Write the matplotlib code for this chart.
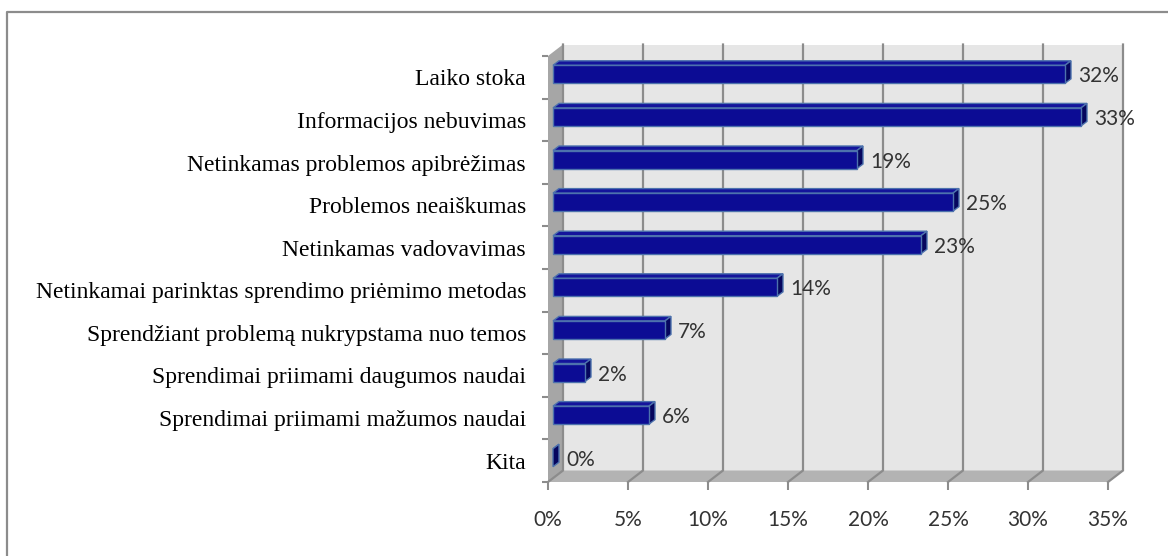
import matplotlib
matplotlib.use('Agg')
import matplotlib.pyplot as plt
from matplotlib.patches import Polygon
from matplotlib.lines import Line2D

categories = ['Laiko stoka', 'Informacijos nebuvimas', 'Netinkamas problemos apibrėžimas',
              'Problemos neaiškumas', 'Netinkamas vadovavimas',
              'Netinkamai parinktas sprendimo priėmimo metodas',
              'Sprendžiant problemą nukrypstama nuo temos',
              'Sprendimai priimami daugumos naudai', 'Sprendimai priimami mažumos naudai',
              'Kita']
values = [32, 33, 19, 25, 23, 14, 7, 2, 6, 0]
xticks = [0, 5, 10, 15, 20, 25, 30, 35]
xticklabels = ['0%', '5%', '10%', '15%', '20%', '25%', '30%', '35%']

W, H = 1168, 556
fig = plt.figure(figsize=(W / 100, H / 100), dpi=100)
fig.patch.set_facecolor('white')

# front plane of the plot area in pixels
left, right, top, bottom = 548, 1108, 56, 482
ax = fig.add_axes([left / W, 1 - bottom / H, (right - left) / W, (bottom - top) / H])
ax.set_xlim(0, 35)
ax.set_ylim(len(categories), 0)
ax.set_frame_on(False)
ax.patch.set_visible(False)

# pixel -> data unit helpers
px_x = 35 / (right - left)
px_y = len(categories) / (bottom - top)

n = len(categories)
dxw, dyw = 15 * px_x, 11.5 * px_y  # wall depth

gray_line = '#8c8c8c'

# back wall
ax.add_patch(Polygon([(dxw, -dyw), (35 + dxw, -dyw), (35 + dxw, n - dyw), (dxw, n - dyw)],
                     closed=True, facecolor='#e6e6e6', edgecolor='none', zorder=0, clip_on=False))
# floor
ax.add_patch(Polygon([(0, n), (35, n), (35 + dxw, n - dyw), (dxw, n - dyw)],
                     closed=True, facecolor='#b3b3b3', edgecolor='none', zorder=1, clip_on=False))
# side wall
ax.add_patch(Polygon([(0, 0), (dxw, -dyw), (dxw, n - dyw), (0, n)],
                     closed=True, facecolor='#a6a6a6', edgecolor='none', zorder=1, clip_on=False))

# gridlines on wall and floor
for v in xticks:
    ax.plot([v + dxw, v + dxw, v], [-dyw, n - dyw, n], color=gray_line, lw=1.6,
            zorder=2, clip_on=False, solid_joinstyle='miter')

# bars
x0 = 5 * px_x
ddx, ddy = 6 * px_x, 4.5 * px_y
front_c = '#0c0c94'
top_c = '#14149c'
side_c = '#06065e'
edge_c = '#4d72ad'
for i, v in enumerate(values):
    yc = i + 0.5
    t = yc - 12 * px_y
    b = yc + 6 * px_y
    x1 = x0 + v
    ax.add_patch(Polygon([(x0, t), (x1, t), (x1 + ddx, t - ddy), (x0 + ddx, t - ddy)],
                         closed=True, facecolor=top_c, edgecolor=edge_c, lw=1, zorder=3, clip_on=False))
    ax.add_patch(Polygon([(x1, t), (x1 + ddx, t - ddy), (x1 + ddx, b - ddy), (x1, b)],
                         closed=True, facecolor=side_c, edgecolor=edge_c, lw=1, zorder=3, clip_on=False))
    if v > 0:
        ax.add_patch(Polygon([(x0, t), (x1, t), (x1, b), (x0, b)],
                             closed=True, facecolor=front_c, edgecolor=edge_c, lw=1, zorder=4,
                             clip_on=False))
    ax.annotate(f'{v}%', xy=(x1, (t + b) / 2), xytext=(9.5, -1.5), textcoords='offset points',
                ha='left', va='center', fontsize=15, family='Lato', color='#333333',
                zorder=5, annotation_clip=False)

# axes ticks
ax.set_xticks(xticks)
ax.set_xticklabels(xticklabels, family='Lato', fontsize=15, color='#333333')
ax.tick_params(axis='x', direction='out', length=5.8, width=1.5, color=gray_line, pad=14)

ax.set_yticks([i + 0.5 for i in range(n)])
ax.set_yticklabels(categories, family='Liberation Serif', fontsize=17, color='black')
ax.set_yticks(list(range(n + 1)), minor=True)
ax.tick_params(axis='y', which='major', length=0, pad=15.8)
ax.tick_params(axis='y', which='minor', direction='out', length=4.3, width=1.5, color=gray_line)

# chart frame
fig.add_artist(Line2D([7 / W, 7 / W, 1], [0, 1 - 12 / H, 1 - 12 / H], transform=fig.transFigure,
                      color=gray_line, lw=1.6))

plt.savefig('out.png', dpi=100)
plt.close()
